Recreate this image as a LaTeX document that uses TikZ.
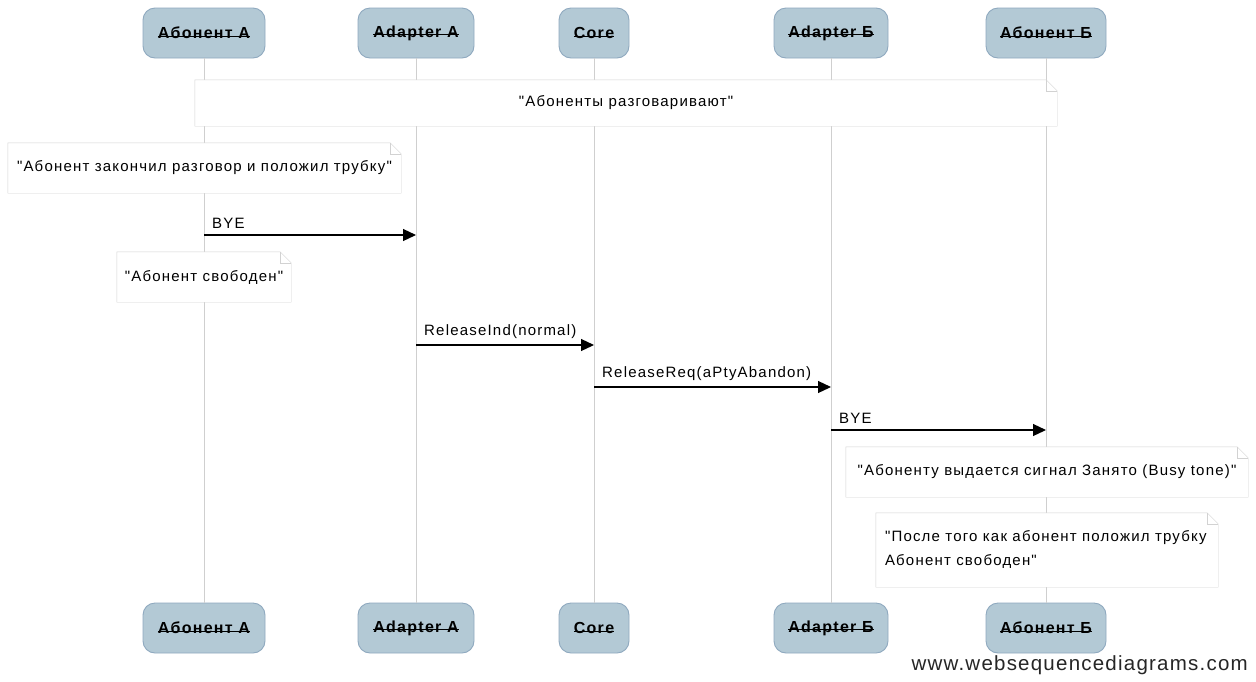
\documentclass[tikz,border=0pt]{standalone}
\usepackage{fontspec}
\newfontfamily\wsdfont{Liberation Sans}[LetterSpace=8]
\newfontfamily\markfont{Liberation Sans}[LetterSpace=6]
\usetikzlibrary{arrows.meta}
\definecolor{actorfill}{HTML}{B3C9D5}
\definecolor{actorline}{HTML}{8FA9BF}
\definecolor{lifeline}{HTML}{CFCFCF}
\definecolor{noteline}{HTML}{D2D2D2}
% bold actor label struck through
\newcommand\actorlabel[1]{\setbox0\hbox{\bfseries #1}\rlap{\box0}\setbox0\hbox{\bfseries #1}\rule[0.26ex]{\wd0}{0.7pt}}
% outline of a note with a folded top-right corner
\newcommand\foldoutline[1]{%
  \draw[noteline, fill=white] (#1.south west) -- (#1.north west) -- ([xshift=-11pt]#1.north east)
    -- ([yshift=-11pt]#1.north east) -- (#1.south east) -- cycle;
  \draw[noteline] ([xshift=-11pt]#1.north east) -- ([xshift=-11pt,yshift=-11pt]#1.north east)
    -- ([yshift=-11pt]#1.north east);}
\tikzset{
  actor/.style={draw=actorline, fill=actorfill, rounded corners=12pt, line width=0.9pt,
    minimum height=50pt, inner sep=0pt, font=\wsdfont\fontsize{16}{19}\selectfont},
  life/.style={draw=lifeline, line width=1pt},
  msg/.style={line width=1.2pt, -{Triangle[length=13pt,width=12pt]}},
  msglabel/.style={anchor=south west, inner sep=0pt, font=\wsdfont\fontsize{15}{18}\selectfont},
  notearea/.style={inner sep=0pt},
  notetext/.style={inner sep=0pt, align=left, font=\wsdfont\fontsize{15}{18}\selectfont}
}
\begin{document}
\begin{tikzpicture}[x=1pt,y=-1pt]
\useasboundingbox (0,0) rectangle (1256,681);
\fill[white] (0,0) rectangle (1256,681);

% actors, top and bottom
\foreach \n/\x/\w/\t in {aa/204/122/{Абонент А}, pa/416/116/{Adapter А}, co/594/70/{Core},
                          pb/831/114/{Adapter Б}, ab/1046/120/{Абонент Б}} {
  \node[actor, minimum width=\w pt] (\n t) at (\x,33) {\actorlabel{\t}};
  \node[actor, minimum width=\w pt] (\n b) at (\x,628) {\actorlabel{\t}};
}

% lifelines
\foreach \n in {aa,pa,co,pb,ab} \draw[life] (\n t.south) -- (\n b.north);

% notes and messages, top to bottom
\node[notearea, minimum width=862pt, minimum height=46pt] (nA) at (626,103) {};
\foldoutline{nA}
\node[notetext] (tA) at (nA) {"Абоненты разговаривают"};

\node[notearea, minimum width=393pt, minimum height=50pt] (nB) at (204.5,168) {};
\foldoutline{nB}
\node[notetext] (tB) at (nB) {"Абонент закончил разговор и положил трубку"};

\draw[msg] (aat.center |- 0,235) -- (pat.center |- 0,235);
\node[msglabel] (lA) at (212,229) {BYE};

\node[notearea, minimum width=174pt, minimum height=50pt] (nC) at (204,277) {};
\foldoutline{nC}
\node[notetext] (tC) at (nC) {"Абонент свободен"};

\draw[msg] (pat.center |- 0,345) -- (cot.center |- 0,345);
\node[msglabel] (lB) at (424,339) {ReleaseInd(normal)};

\draw[msg] (cot.center |- 0,387) -- (pbt.center |- 0,387);
\node[msglabel] (lC) at (602,381) {ReleaseReq(aPtyAbandon)};

\draw[msg] (pbt.center |- 0,430) -- (abt.center |- 0,430);
\node[msglabel] (lD) at (839,424) {BYE};

\node[notearea, minimum width=402pt, minimum height=50pt] (nD) at (1047,472) {};
\foldoutline{nD}
\node[notetext] (tD) at (nD) {"Абоненту выдается сигнал Занято (Busy tone)"};

\node[notearea, minimum width=342pt, minimum height=74pt] (nE) at (1047,550) {};
\foldoutline{nE}
\node[notetext, anchor=west] (tE) at ([xshift=9pt,yshift=1pt]nE.west) {"После того как абонент положил трубку\\[6pt]Абонент свободен"};

% watermark
\node[anchor=east, inner sep=0pt, font=\markfont\fontsize{20.5}{24}\selectfont, text=black!85] (wm) at (1248,665) {www.websequencediagrams.com};
\end{tikzpicture}
\end{document}
